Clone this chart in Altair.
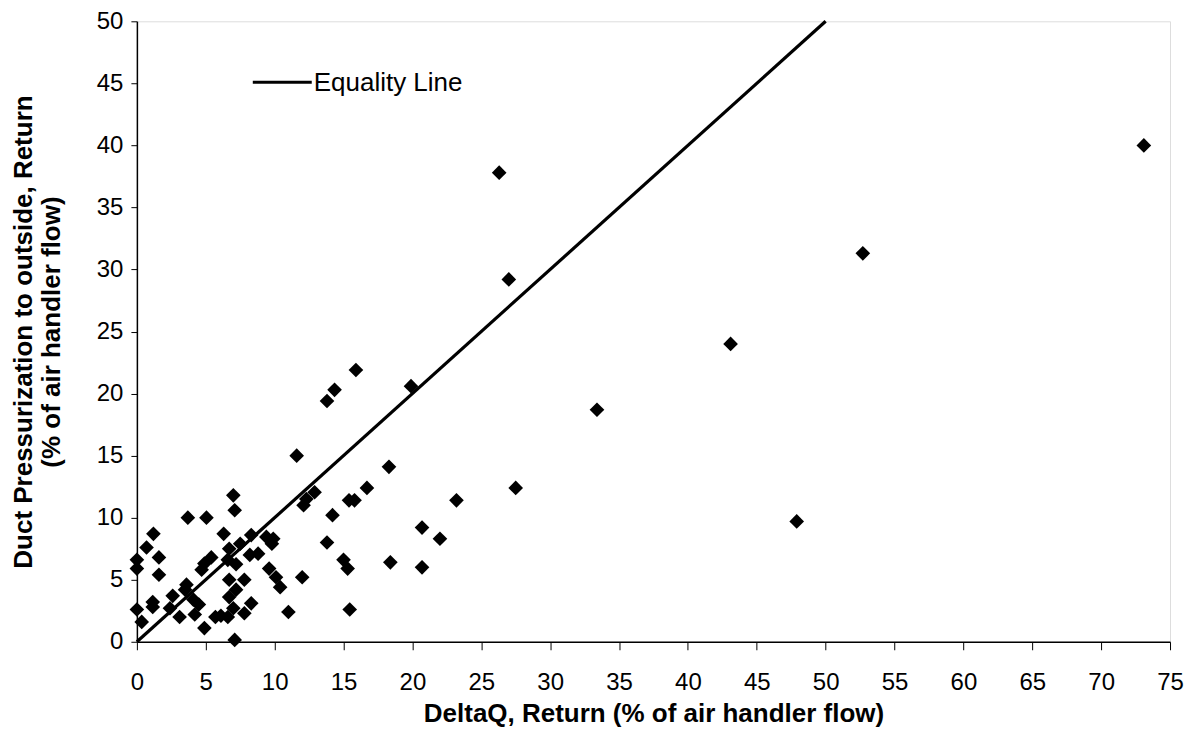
import altair as alt
import pandas as pd

delta_q = [
    11.6, 7.0, 7.1, 3.7, 5.05, 1.2, 6.3, 0.7, 1.6, 0.0,
    0.0, 1.6, 0.0, 0.35, 1.15, 1.15, 2.6, 2.4, 3.1, 3.6,
    3.5, 4.1, 4.5, 4.2, 4.9, 4.7, 4.9, 5.4, 6.7, 7.5,
    8.3, 6.6, 7.2, 6.7, 7.8, 7.2, 6.7, 8.3, 7.0, 6.1,
    5.7, 6.6, 7.8, 7.1, 8.2, 8.8, 9.4, 9.9, 9.8, 9.6,
    10.1, 10.4, 11.0, 12.0, 12.1, 12.9, 12.3, 13.8, 14.2, 15.4,
    15.8, 16.7, 18.3, 23.2, 27.5, 20.7, 22.0, 15.0, 15.3, 18.4,
    20.7, 15.45, 13.8, 14.35, 15.9, 19.9, 26.3, 27.0, 43.1, 33.4,
    47.9, 52.7, 73.1,
]
pressurization = [
    15.0, 11.8, 10.6, 10.0, 10.0, 8.7, 8.7, 7.6, 6.8, 6.6,
    5.9, 5.4, 2.6, 1.6, 3.2, 2.8, 3.7, 2.7, 2.0, 4.6,
    4.2, 3.4, 3.0, 2.2, 1.1, 5.8, 6.3, 6.8, 7.5, 7.9,
    8.6, 6.6, 6.25, 5.0, 5.0, 4.2, 3.6, 3.1, 2.7, 2.1,
    2.0, 2.0, 2.3, 0.15, 7.0, 7.1, 8.45, 8.3, 7.9, 5.9,
    5.2, 4.4, 2.4, 5.2, 11.0, 12.05, 11.5, 8.0, 10.2, 11.4,
    11.4, 12.4, 14.1, 11.4, 12.4, 9.2, 8.3, 6.6, 5.9, 6.4,
    6.0, 2.6, 19.4, 20.3, 21.9, 20.6, 37.8, 29.2, 24.0, 18.7,
    9.7, 31.3, 40.0,
]
line_x = [0, 50]
line_y = [0, 50]

x_ticks = list(range(0, 80, 5))
y_ticks = list(range(0, 55, 5))

pts = pd.DataFrame({"dq": delta_q, "p": pressurization})
eq = pd.DataFrame({"dq": line_x, "p": line_y})

font = "Liberation Sans"

xs = alt.Scale(domain=[0, 75], nice=False, zero=False)
ys = alt.Scale(domain=[0, 50], nice=False, zero=False)

x_axis = alt.Axis(
    title="DeltaQ, Return (% of air handler flow)",
    values=x_ticks, grid=False, labelFontSize=24, titleFontSize=26,
    labelFont=font, titleFont=font, titleFontWeight="bold",
    labelColor="black", titleColor="black", domainColor="black",
    tickColor="black", tickSize=8, labelPadding=21, titlePadding=6,
    domainWidth=1.5, labelFlush=False,
)
y_axis = alt.Axis(
    title=["Duct Pressurization to outside, Return", "(% of air handler flow)"],
    values=y_ticks, grid=False, labelFontSize=24, titleFontSize=26,
    labelFont=font, titleFont=font, titleFontWeight="bold",
    labelColor="black", titleColor="black", domainColor="black",
    tickColor="black", tickSize=6, labelPadding=8, titlePadding=32,
    titleLineHeight=28, domainWidth=1.5, labelFlush=False,
)

points = alt.Chart(pts).mark_point(
    shape="diamond", filled=True, color="black", size=215, opacity=1
).encode(
    x=alt.X("dq:Q", scale=xs, axis=x_axis),
    y=alt.Y("p:Q", scale=ys, axis=y_axis),
)

line = alt.Chart(eq).mark_line(color="black", strokeWidth=3.2).encode(
    x=alt.X("dq:Q", scale=xs),
    y=alt.Y("p:Q", scale=ys),
)

legend_line = alt.Chart(pd.DataFrame({"a": [0]})).mark_rule(
    color="black", strokeWidth=3.2
).encode(x=alt.value(116), x2=alt.value(175), y=alt.value(61))

legend_text = alt.Chart(pd.DataFrame({"t": ["Equality Line"]})).mark_text(
    align="left", baseline="middle", fontSize=26, font=font, color="black"
).encode(x=alt.value(177), y=alt.value(62), text="t:N")

chart = alt.layer(line, points, legend_line, legend_text).properties(
    width=1034, height=621,
    autosize=alt.AutoSizeParams(type="none"),
    padding={"left": 129, "top": 13, "right": 20, "bottom": 100},
).configure_view(stroke="black", strokeWidth=1.5).configure(background="white")

chart.save("out.html", embed_options={"renderer": "svg", "actions": False})
